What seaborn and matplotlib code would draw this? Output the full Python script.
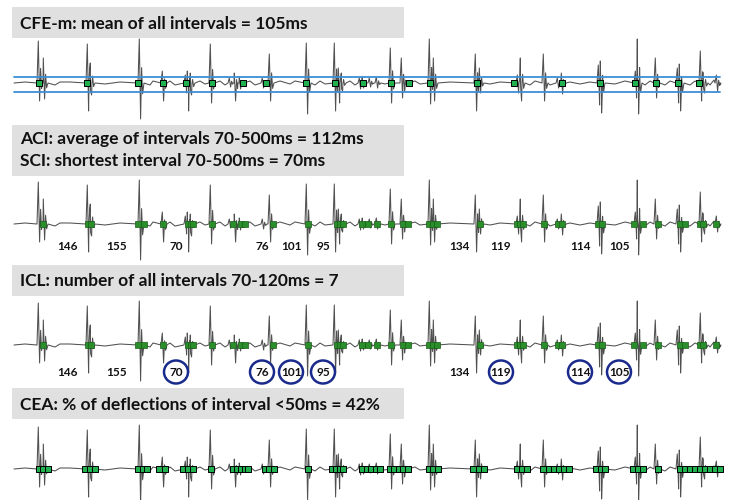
import numpy as np
import pandas as pd
import matplotlib
matplotlib.use("Agg")
import matplotlib.pyplot as plt
from matplotlib.patches import Rectangle, Ellipse
import seaborn as sns

# deflection complexes of the recorded trace: position, upward and downward size (px)
spike_x = [39, 44, 88, 91, 140, 163, 186, 188, 191, 211, 230, 235, 240, 263, 270, 307,
           335, 339, 342, 360, 363, 370, 377, 391, 402, 404, 430, 434, 476, 480, 518, 521,
           544, 558, 562, 599, 601, 636, 638, 656, 678, 680, 701, 704, 717]
spike_up = [42, 25, 39, 20, 44, 12, 8, 12, 10, 39, 5, 10, 6, 5, 29, 40,
            40, 15, 10, 5, 6, 5, 6, 35, 25, 8, 44, 25, 29, 15, 8, 25,
            29, 5, 10, 18, 22, 12, 44, 25, 15, 19, 32, 10, 8]
spike_dn = [18, 16, 28, 12, 36, 18, 10, 28, 12, 20, 4, 18, 6, 5, 18, 31,
            28, 20, 8, 6, 5, 4, 5, 20, 15, 8, 21, 18, 28, 10, 10, 18,
            18, 5, 11, 22, 30, 15, 31, 15, 20, 28, 18, 10, 8]

# small baseline wiggles
wiggle_x = [25, 55, 60, 70, 105, 120, 150, 153, 170, 175, 200, 205, 220, 225, 250, 255,
            280, 290, 295, 315, 320, 325, 350, 355, 385, 415, 420, 450, 490, 500, 530, 535,
            550, 570, 580, 590, 615, 625, 645, 650, 665, 670, 690, 695, 710, 714, 720]
wiggle_amp = [1, -2, 1, 1, -1, 1, -2, 2, 2, -2, 2, -1, 2, -2, 2, -2,
              2, -1, 2, -2, 2, -1, 2, -2, -1, 2, -1, 1, -1, 1, -2, 2,
              -2, 1, -1, 1, -1, 2, -2, 2, -2, 2, -2, 2, -2, 3, -2]

# annotated activation markers for each panel
cfe_marks = [39, 87, 138, 163, 186, 212, 243, 266, 306, 335, 363, 391, 409, 430, 477,
             514, 562, 600, 635, 656, 678, 699]
aci_marks = [43, 88, 91, 138, 144, 163, 188, 191, 193, 212, 233, 241, 245, 273, 308,
             337, 340, 343, 362, 368, 377, 391, 403, 408, 429, 433, 437, 480, 517, 520,
             523, 544, 558, 562, 598, 602, 634, 643, 658, 680, 685, 700, 703, 716]
cea_marks = [39, 43, 48, 85, 90, 95, 138, 143, 147, 159, 165, 183, 188, 193, 211, 233,
             237, 241, 245, 248, 265, 269, 274, 308, 332, 336, 340, 343, 362, 367, 371,
             376, 380, 390, 394, 399, 403, 408, 429, 433, 438, 473, 479, 484, 517, 522,
             527, 543, 549, 554, 559, 564, 569, 596, 601, 605, 633, 638, 643, 658, 680,
             685, 690, 695, 700, 705, 710, 715, 720]

# interval labels
interval_x = [67, 117, 176, 262, 291, 323, 459, 501, 580, 619]
interval_ms = [146, 155, 70, 76, 101, 95, 134, 119, 114, 105]

titles = [
    ["CFE-m: mean of all intervals = 105ms"],
    ["ACI: average of intervals 70-500ms = 112ms", "SCI: shortest interval 70-500ms = 70ms"],
    ["ICL: number of all intervals 70-120ms = 7"],
    ["CEA: % of deflections of interval <50ms = 42%"],
]

# layout (pixel coordinates)
baselines = [83, 224, 345, 469]
boxes = [(7, 38), (125, 176), (265, 296), (388, 419)]
title_y = [[24], [139, 161], [281], [405]]

sns.set_style("white")
plt.rcParams['font.family'] = ['Lato', 'DejaVu Sans']

fig = plt.figure(figsize=(7.29, 5.0), dpi=100)
ax = fig.add_axes([0, 0, 1, 1])
ax.set_xlim(0, 729)
ax.set_ylim(500, 0)
ax.axis("off")

# build the trace
pts = [(14, 0.0), (720, 0.0)]
for x, a in zip(wiggle_x, wiggle_amp):
    pts.append((x, a))
for x, u, d in zip(spike_x, spike_up, spike_dn):
    pts += [(x - 2, 0), (x - 0.7, u), (x + 0.6, -d), (x + 1.6, u * 0.35),
            (x + 2.6, -d * 0.3), (x + 4, 0)]
pts.sort(key=lambda p: p[0])
trace = pd.DataFrame(pts, columns=["x", "amp"])

for i, base in enumerate(baselines):
    y0, y1 = boxes[i]
    ax.add_patch(Rectangle((12, y0), 392, y1 - y0, facecolor="#e0e0e0", edgecolor="none", zorder=0))
    for line, ty in zip(titles[i], title_y[i]):
        ax.text(20, ty, line, fontsize=12.5, fontweight="bold", color="#111111",
                va="center", ha="left")
    df = trace.assign(y=base - trace["amp"])
    sns.lineplot(data=df, x="x", y="y", ax=ax, sort=False, estimator=None,
                 color="#505050", linewidth=0.75, zorder=2)

# CFE-m threshold lines
for yl in [77, 92]:
    ax.plot([14, 720], [yl, yl], color="#3b8fd6", linewidth=1.3, zorder=3)

sns.scatterplot(x=cfe_marks, y=[baselines[0]] * len(cfe_marks), ax=ax, marker="s", s=18,
                color="#21b24f", edgecolor="black", linewidth=0.7, zorder=4)
for b in [baselines[1], baselines[2]]:
    sns.scatterplot(x=aci_marks, y=[b] * len(aci_marks), ax=ax, marker="s", s=15,
                    color="#2a8f2a", edgecolor="#1a5e1a", linewidth=0.5, zorder=4)
sns.scatterplot(x=cea_marks, y=[baselines[3]] * len(cea_marks), ax=ax, marker="s", s=16,
                color="#21b24f", edgecolor="black", linewidth=0.7, zorder=4)

for x, v in zip(interval_x, interval_ms):
    ax.text(x, 246, str(v), fontsize=8.5, fontweight="bold", ha="center", va="center", color="#111111")
    ax.text(x, 372, str(v), fontsize=8.5, fontweight="bold", ha="center", va="center", color="#111111")
    if 70 <= v <= 120:
        ax.add_patch(Ellipse((x, 372), 24, 23, facecolor="none", edgecolor="#1a2a8c",
                             linewidth=1.8, zorder=5))

fig.savefig("out.png", dpi=100)
